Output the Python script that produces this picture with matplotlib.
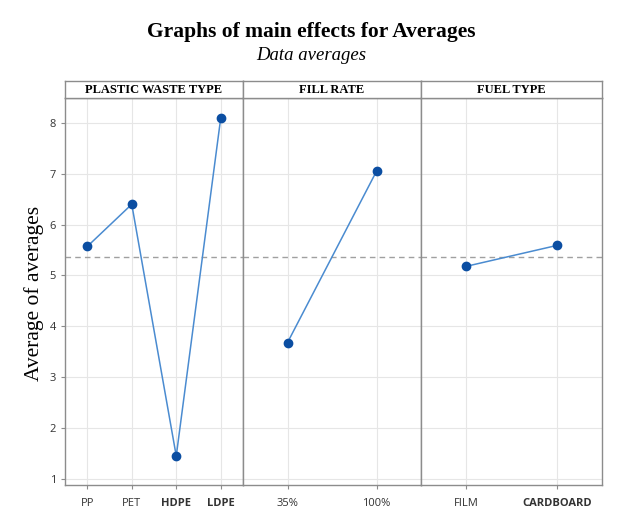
import matplotlib
matplotlib.use("Agg")
import matplotlib.pyplot as plt

factors = ["PLASTIC WASTE TYPE", "FILL RATE", "FUEL TYPE"]
levels = [["PP", "PET", "HDPE", "LDPE"], ["35%", "100%"], ["FILM", "CARDBOARD"]]
means = [[5.57, 6.40, 1.45, 8.10], [3.68, 7.05], [5.18, 5.59]]
grand_mean = 5.36
yticks = [1, 2, 3, 4, 5, 6, 7, 8]

fig = plt.figure(figsize=(6.22, 5.27), dpi=100)
W, H = 622, 527
top_strip, top_plot, bottom = 81, 98, 485
edges = [65, 243, 421, 602]

line_c = "#4a8bd0"
mark_c = "#0b4ea2"
frame_c = "#8c8c8c"

for i in range(3):
    x0, x1 = edges[i], edges[i + 1]
    ax = fig.add_axes([x0 / W, 1 - bottom / H, (x1 - x0) / W, (bottom - top_plot) / H])
    n = len(levels[i])
    xs = list(range(n))
    ax.set_xlim(-0.5, n - 0.5)
    ax.set_ylim(0.88, 8.49)
    ax.set_yticks(yticks)
    ax.set_xticks(xs)
    ax.set_xticklabels(levels[i], fontfamily="Open Sans", fontsize=8, color="#333333")
    for lab, lv in zip(ax.get_xticklabels(), levels[i]):
        if lv in ("HDPE", "LDPE", "CARDBOARD"):
            lab.set_fontweight("bold")
    ax.grid(True, color="#e6e6e6", linewidth=0.8)
    ax.set_axisbelow(True)
    ax.axhline(grand_mean, color="#a0a0a0", linestyle=(0, (4, 3)), linewidth=1.0, zorder=2)
    ax.plot(xs, means[i], color=line_c, linewidth=1.1, zorder=3)
    ax.plot(xs, means[i], linestyle="none", marker="o", markersize=6, color=mark_c, zorder=4)
    for s in ax.spines.values():
        s.set_color(frame_c)
        s.set_linewidth(1.0)
    ax.tick_params(axis="x", length=3, color=frame_c, pad=6)
    if i == 0:
        ax.set_yticklabels([str(t) for t in yticks], fontfamily="Open Sans", fontsize=8, color="#333333")
        ax.tick_params(axis="y", length=3, color=frame_c)
    else:
        ax.tick_params(axis="y", length=0, labelleft=False)
    sax = fig.add_axes([x0 / W, 1 - top_plot / H, (x1 - x0) / W, (top_plot - top_strip) / H])
    sax.set_xticks([]); sax.set_yticks([])
    for s in sax.spines.values():
        s.set_color(frame_c)
        s.set_linewidth(1.0)
    sax.text(0.5, 0.45, factors[i], ha="center", va="center", transform=sax.transAxes,
             fontfamily="Liberation Serif", fontweight="bold", fontsize=9)

fig.text(0.5, 1 - 32 / H, "Graphs of main effects for Averages", ha="center", va="center",
         fontfamily="Liberation Serif", fontweight="bold", fontsize=15.5)
fig.text(0.5, 1 - 56 / H, "Data averages", ha="center", va="center",
         fontfamily="Liberation Serif", style="italic", fontsize=13.5)
fig.text(34 / W, 1 - 293 / H, "Average of averages", ha="center", va="center", rotation=90,
         fontfamily="Liberation Serif", fontsize=15.5)

fig.savefig("out.png", dpi=100)
